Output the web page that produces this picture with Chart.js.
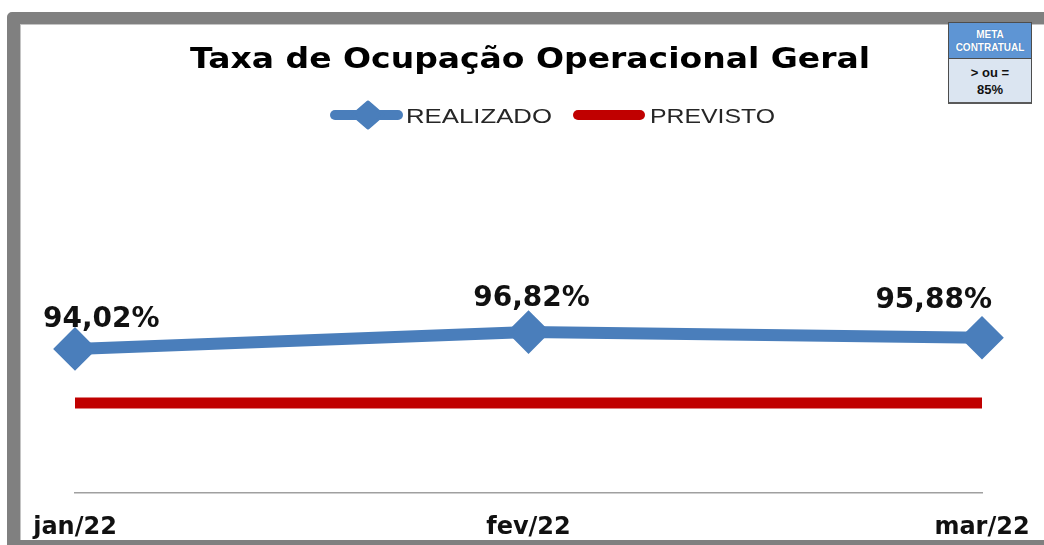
<!DOCTYPE html>
<html>
<head>
<meta charset="utf-8">
<script src="https://cdn.jsdelivr.net/npm/chart.js@4.4.1/dist/chart.umd.min.js"></script>
<style>
html, body { margin: 0; padding: 0; background: #fff; }
#wrap { position: relative; width: 1044px; height: 545px; overflow: hidden; background: #fff; }
#frame { position: absolute; left: 7px; top: 12px; width: 1200px; height: 541px; box-sizing: border-box;
  border: 13px solid #808080; border-top-width: 12px; border-radius: 5px 0 0 0;
  box-shadow: inset 1px 1px 0 #c4c4c4; }
#myChart { position: absolute; left: 0; top: 0; }
#meta { position: absolute; left: 948px; top: 22px; width: 84px; height: 82px; box-sizing: border-box;
  border: 1px solid #4d4d4d; border-bottom: 2px solid #5a5a5a; font-family: "Liberation Sans", Arial, sans-serif;
  font-weight: bold; text-align: center; }
#meta .top { height: 36px; background: #5e95d4; color: #fff; font-size: 10px; line-height: 13px;
  padding-top: 5px; box-sizing: border-box; border-bottom: 1px solid #4d4d4d; text-shadow: 0 0 1px #3a6ea8; }
#meta .bot { height: 43px; background: #dbe5f1; color: #111; font-size: 13px; line-height: 17px; padding-top: 5px; box-sizing: border-box; }
</style>
</head>
<body>
<div id="wrap">
  <div id="frame"></div>
  <canvas id="myChart" width="1044" height="545"></canvas>
  <div id="meta">
    <div class="top">META<br>CONTRATUAL</div>
    <div class="bot">&gt; ou =<br>85%</div>
  </div>
</div>
<script>
const chartTitle = 'Taxa de Ocupação Operacional Geral';
const categories = ['jan/22', 'fev/22', 'mar/22'];
const realizado = [94.02, 96.82, 95.88];
const previsto = [85, 85, 85];

const BLUE = '#4a7ebb';
const RED = '#c00000';

// draw text stretched horizontally so it fills a given width (the original picture is stretched)
function stretchText(ctx, text, x, y, targetW, align) {
    const w = ctx.measureText(text).width;
    const sx = targetW ? targetW / w : 1;
    ctx.save();
    ctx.translate(x, y);
    ctx.scale(sx, 1);
    ctx.textAlign = align || 'left';
    ctx.fillText(text, 0, 0);
    ctx.restore();
}

function fmtPct(v) {
    return v.toFixed(2).replace('.', ',') + '%';
}

const decorPlugin = {
    id: 'decor',
    afterDatasetsDraw(chart) {
        const ctx = chart.ctx;
        const meta = chart.getDatasetMeta(1);
        ctx.save();
        ctx.fillStyle = '#111';
        ctx.font = 'bold 28px "DejaVu Sans"';
        ctx.textBaseline = 'alphabetic';
        const last = meta.data.length - 1;
        meta.data.forEach((pt, i) => {
            const txt = fmtPct(realizado[i]);
            if (i === 0) stretchText(ctx, txt, pt.x - 32, pt.y - 22, 0, 'left');
            else if (i === last) stretchText(ctx, txt, pt.x + 10, pt.y - 30, 0, 'right');
            else stretchText(ctx, txt, pt.x + 3, pt.y - 26, 0, 'center');
        });
        ctx.restore();
    },
    afterDraw(chart) {
        const ctx = chart.ctx;
        ctx.save();
        // title
        ctx.fillStyle = '#000';
        ctx.font = 'bold 28px "DejaVu Sans"';
        stretchText(ctx, chartTitle, 530, 68, 680, 'center');

        // legend
        const ds = chart.data.datasets;
        const ly = 115;
        // realizado: line + diamond
        ctx.lineCap = 'round';
        ctx.strokeStyle = ds[1].borderColor;
        ctx.lineWidth = 10;
        ctx.beginPath(); ctx.moveTo(335, ly); ctx.lineTo(398, ly); ctx.stroke();
        ctx.fillStyle = ds[1].borderColor;
        ctx.lineJoin = 'round';
        ctx.lineWidth = 3;
        ctx.beginPath();
        ctx.moveTo(353, ly); ctx.lineTo(368, ly - 13); ctx.lineTo(383, ly); ctx.lineTo(368, ly + 13); ctx.closePath();
        ctx.fill(); ctx.stroke();
        // previsto: line
        ctx.strokeStyle = ds[0].borderColor;
        ctx.lineWidth = 10;
        ctx.beginPath(); ctx.moveTo(578, ly); ctx.lineTo(640, ly); ctx.stroke();

        ctx.fillStyle = '#262626';
        ctx.font = '21px "Liberation Sans"';
        stretchText(ctx, ds[1].label, 406, ly + 8, 146, 'left');
        stretchText(ctx, ds[0].label, 650, ly + 8, 125, 'left');
        ctx.restore();
    }
};

const ctx = document.getElementById('myChart').getContext('2d');
const myChart = new Chart(ctx, {
    type: 'line',
    data: {
        labels: categories,
        datasets: [{
            label: 'PREVISTO',
            data: previsto,
            borderColor: RED,
            backgroundColor: RED,
            borderWidth: 11,
            borderCapStyle: 'butt',
            pointRadius: 0,
            pointHoverRadius: 0,
            clip: false
        }, {
            label: 'REALIZADO',
            data: realizado,
            borderColor: BLUE,
            backgroundColor: BLUE,
            borderWidth: 12,
            borderJoinStyle: 'round',
            pointStyle: 'rectRot',
            pointRadius: 19,
            pointBorderWidth: 4,
            pointBackgroundColor: BLUE,
            pointBorderColor: BLUE,
            clip: false
        }]
    },
    options: {
        responsive: false,
        animation: false,
        events: [],
        layout: {
            padding: { left: 75, right: 62, top: 313, bottom: 0 }
        },
        plugins: {
            legend: { display: false },
            title: { display: false },
            tooltip: { enabled: false }
        },
        scales: {
            x: {
                offset: false,
                grid: { display: false, drawTicks: false },
                border: { display: true, color: '#a0a0a0', width: 1.5 },
                ticks: {
                    color: '#111',
                    padding: 20,
                    maxRotation: 0,
                    autoSkip: false,
                    font: { family: 'DejaVu Sans', size: 24, weight: 'bold' }
                },
                afterFit: function(scale) {
                    scale.height = 52;
                    scale.paddingLeft = 0;
                    scale.paddingRight = 0;
                }
            },
            y: {
                display: false,
                min: 70,
                max: 100
            }
        }
    },
    plugins: [decorPlugin]
});
</script>
</body>
</html>
